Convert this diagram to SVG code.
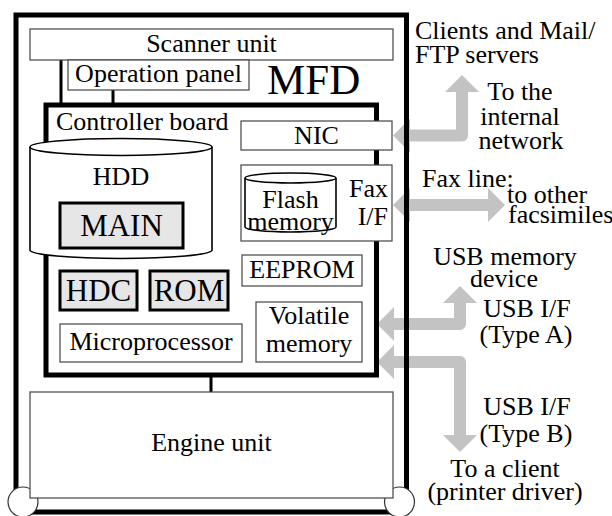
<svg xmlns="http://www.w3.org/2000/svg" width="612" height="516" viewBox="0 0 612 516">
<style>
text{font-family:'Liberation Serif','Times New Roman',Times,'DejaVu Serif',serif;font-size:26px;fill:#000}
.c{text-anchor:middle}
.big{font-size:31px}
.box{fill:#fff;stroke:#444;stroke-width:1.2}
.chip{fill:#e6e6e6;stroke:#000;stroke-width:3}
.thick{fill:#fff;stroke:#000;stroke-width:5}
.wire{stroke:#000;stroke-width:3;fill:none}
.arr{fill:none;stroke:#c3c3c3;stroke-width:12;stroke-linejoin:round}
.cyl{fill:#fff;stroke:#000;stroke-width:1.6}
</style>
<defs>
<marker id="head" viewBox="0 0 17 34" refX="0" refY="17" markerWidth="17" markerHeight="34" markerUnits="userSpaceOnUse" orient="auto-start-reverse">
<path d="M0,0 L17,17 L0,34 z" fill="#c3c3c3"/>
</marker>
</defs>
<rect width="612" height="516" fill="#fff"/>
<g id="connectors">
<path class="arr" d="M410,135.5 H462 V92" marker-start="url(#head)" marker-end="url(#head)"/>
<path class="arr" d="M410,205 H488" marker-start="url(#head)" marker-end="url(#head)"/>
<path class="arr" d="M394,324 H460 V303" marker-start="url(#head)" marker-end="url(#head)"/>
<path class="arr" d="M394,362 H460 V435" marker-start="url(#head)" marker-end="url(#head)"/>
<path class="wire" d="M61,60 V105 M113,90 V105 M211,375 V392"/>
</g>
<g id="mfd">
<rect x="16" y="15" width="390.5" height="497" fill="none" stroke="#000" stroke-width="5"/>
<circle cx="23" cy="502" r="15" fill="#fff" stroke="#333" stroke-width="1.2"/>
<circle cx="399.5" cy="502" r="15" fill="#fff" stroke="#333" stroke-width="1.2"/>
<text x="267" y="94" font-family="Liberation Serif, serif" style="font-size:43px">MFD</text>
</g>
<g id="scanner-unit">
<rect class="box" x="30" y="29" width="363" height="31"/>
<text class="c" x="211.5" y="52">Scanner unit</text>
</g>
<g id="operation-panel">
<rect class="box" x="68" y="60" width="181" height="30"/>
<text class="c" x="158.5" y="82">Operation panel</text>
</g>
<g id="controller-board">
<rect class="thick" x="46" y="105" width="330.5" height="270"/>
<text x="56" y="130">Controller board</text>
</g>
<g id="hdd">
<path class="cyl" d="M30,147 V250 A91,8.5 0 0 0 212,250 V147"/>
<ellipse class="cyl" cx="121" cy="147" rx="91" ry="8.5"/>
<text class="c" x="121" y="185">HDD</text>
</g>
<g id="main">
<rect class="chip" x="60" y="203" width="123" height="45"/>
<text class="c big" x="121.5" y="236">MAIN</text>
</g>
<g id="nic">
<rect class="box" x="241" y="121" width="151" height="29"/>
<text class="c" x="316.5" y="144">NIC</text>
</g>
<g id="fax-if">
<rect class="box" x="241" y="165" width="151" height="76"/>
<text x="388" y="197" text-anchor="end">Fax</text>
<text x="388" y="225" text-anchor="end">I/F</text>
</g>
<g id="flash-memory">
<path class="cyl" d="M245,178 V227 A45.5,5 0 0 0 336,227 V178"/>
<ellipse class="cyl" cx="290.5" cy="178" rx="45.5" ry="5"/>
<text class="c" x="290.5" y="208">Flash</text>
<text class="c" x="290.5" y="230">memory</text>
</g>
<g id="eeprom">
<rect class="box" x="242" y="255" width="120" height="31"/>
<text class="c" x="302" y="278">EEPROM</text>
</g>
<g id="hdc">
<rect class="chip" x="60" y="271" width="77" height="39"/>
<text class="c big" x="98.5" y="301">HDC</text>
</g>
<g id="rom">
<rect class="chip" x="150" y="271" width="78" height="39"/>
<text class="c big" x="189" y="301">ROM</text>
</g>
<g id="microprocessor">
<rect class="box" x="60" y="324" width="182" height="38"/>
<text class="c" x="151" y="350">Microprocessor</text>
</g>
<g id="volatile-memory">
<rect class="box" x="256" y="302" width="106" height="60"/>
<text class="c" x="309" y="324">Volatile</text>
<text class="c" x="309" y="352">memory</text>
</g>
<g id="engine-unit">
<rect class="box" x="30" y="392" width="363" height="106"/>
<text class="c" x="211.5" y="451">Engine unit</text>
</g>
<g id="external-labels">
<text x="415" y="39">Clients and Mail/</text>
<text x="415" y="63">FTP servers</text>
<text class="c" x="520" y="100">To the</text>
<text class="c" x="520" y="125">internal</text>
<text class="c" x="521" y="149">network</text>
<text x="422" y="187">Fax line:</text>
<text x="507" y="203">to other</text>
<text x="508" y="223">facsimiles</text>
<text class="c" x="505" y="265">USB memory</text>
<text class="c" x="504" y="287">device</text>
<text class="c" x="527" y="317">USB I/F</text>
<text class="c" x="526" y="343">(Type A)</text>
<text class="c" x="527" y="415">USB I/F</text>
<text class="c" x="526" y="442">(Type B)</text>
<text class="c" x="505" y="477">To a client</text>
<text class="c" x="505" y="500">(printer driver)</text>
</g>
</svg>
